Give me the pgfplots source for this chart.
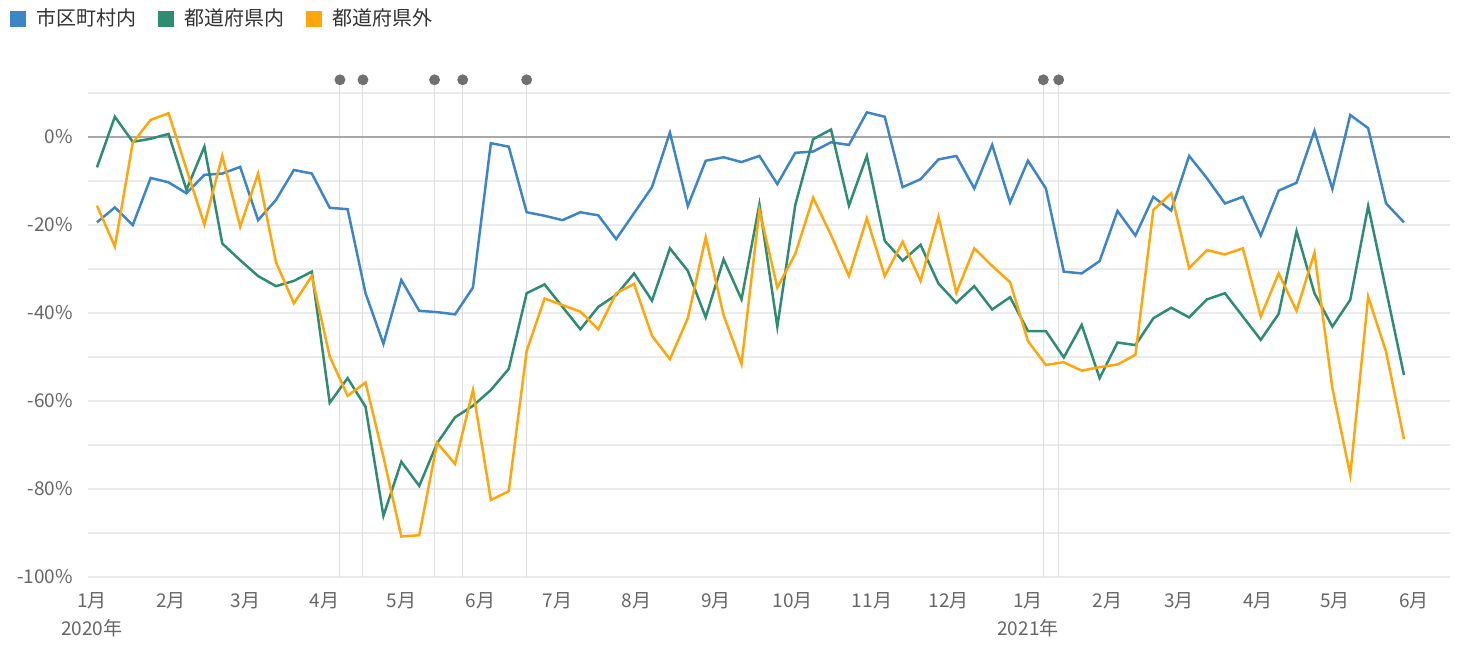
\documentclass[border=0pt]{standalone}
\usepackage{fontspec}
\setmainfont{Noto Sans CJK JP}
\usepackage{pgfplots}
\usepackage{pgfplotstable}
\pgfplotsset{compat=1.18}
\definecolor{cblue}{HTML}{3D85C6}
\definecolor{cgreen}{HTML}{2E8B74}
\definecolor{corange}{HTML}{FFA60D}
\definecolor{gridgray}{HTML}{EBEBEB}
\definecolor{zerogray}{HTML}{A8A8A8}
\definecolor{eventgray}{HTML}{DEDEDE}
\definecolor{dotgray}{HTML}{707070}
\definecolor{tickgray}{HTML}{666666}
\definecolor{legtext}{HTML}{333333}

\pgfplotstableread{
d b g o
2 -19.4 -6.9 -15.6
9 -16.0 4.6 -24.9
16 -20.0 -1.1 -1.3
23 -9.3 -0.4 3.9
30 -10.3 0.7 5.4
37 -12.8 -12.0 -7.3
44 -8.6 -2.2 -19.9
51 -8.3 -24.2 -4.3
58 -6.8 -28.0 -20.4
65 -18.9 -31.6 -8.3
72 -14.3 -33.9 -28.5
79 -7.5 -32.7 -37.8
86 -8.3 -30.6 -31.6
93 -16.1 -60.4 -49.9
100 -16.4 -54.8 -58.8
107 -35.5 -61.3 -55.8
114 -47.0 -86.1 -72.7
121 -32.5 -73.8 -90.8
128 -39.5 -79.3 -90.5
135 -39.8 -69.6 -69.5
142 -40.3 -63.7 -74.3
149 -34.2 -61.1 -57.5
156 -1.4 -57.5 -82.5
163 -2.2 -52.7 -80.5
170 -17.1 -35.5 -48.6
177 -17.9 -33.5 -36.7
184 -18.9 -38.6 -38.2
191 -17.1 -43.7 -39.7
198 -17.8 -38.6 -43.7
205 -23.2 -35.9 -35.5
212 -17.3 -31.0 -33.4
219 -11.4 -37.2 -45.2
226 1.0 -25.3 -50.5
233 -15.7 -30.4 -41.2
240 -5.4 -41.0 -22.8
247 -4.6 -27.8 -40.5
254 -5.7 -36.9 -51.6
261 -4.3 -15.3 -16.6
268 -10.7 -43.1 -34.2
275 -3.6 -15.5 -26.6
282 -3.3 -0.5 -13.8
289 -1.2 1.7 -22.3
296 -1.8 -15.6 -31.6
303 5.6 -4.3 -18.5
310 4.6 -23.6 -31.6
317 -11.4 -28.1 -23.8
324 -9.6 -24.5 -32.7
331 -5.1 -33.3 -18.1
338 -4.3 -37.7 -35.4
345 -11.7 -33.9 -25.3
352 -1.8 -39.2 -29.3
359 -14.9 -36.4 -33.0
366 -5.4 -44.1 -46.4
373 -11.7 -44.1 -51.8
380 -30.6 -50.1 -51.2
387 -31.0 -42.7 -53.1
394 -28.2 -54.8 -52.3
401 -16.8 -46.7 -51.7
408 -22.4 -47.3 -49.5
415 -13.6 -41.2 -16.6
422 -16.7 -38.8 -12.8
429 -4.3 -41.0 -29.8
436 -9.4 -36.9 -25.7
443 -15.1 -35.5 -26.7
450 -13.6 -40.8 -25.3
457 -22.4 -46.1 -40.8
464 -12.2 -40.2 -31.0
471 -10.4 -21.4 -39.5
478 1.4 -35.5 -26.3
485 -11.8 -43.1 -57.1
492 5.0 -37.0 -76.8
499 2.0 -15.7 -36.3
506 -15.1 -34.8 -48.8
513 -19.4 -54.1 -68.7
}\data

\begin{document}
\begin{tikzpicture}
\path[use as bounding box] (0,0) rectangle (730pt,322pt);
\begin{axis}[
  at={(44pt,33.5pt)}, anchor=south west,
  scale only axis, width=681pt, height=242pt,
  xmin=-1.5, xmax=531, ymin=-100, ymax=10,
  clip=false,
  axis line style={draw=none},
  major tick length=0pt, minor tick length=0pt,
  xtick={0,31,60,91,121,152,182,213,244,274,305,335,366,397,425,456,486,517},
  xticklabels={{1月\\[1pt]2020年},2月,3月,4月,5月,6月,7月,8月,9月,10月,11月,12月,{1月\\[1pt]2021年},2月,3月,4月,5月,6月},
  xticklabel style={align=center, anchor=north, font=\fontsize{9.5}{13}\selectfont, text=tickgray, yshift=-4pt},
  ytick={-100,-80,-60,-40,-20,0},
  yticklabels={-100\%,-80\%,-60\%,-40\%,-20\%,0\%},
  yticklabel style={font=\fontsize{9.5}{11}\selectfont, text=tickgray, xshift=-4pt},
  minor ytick={-90,-70,-50,-30,-10,10},
  ymajorgrids, yminorgrids,
  major grid style={gridgray, line width=0.7pt},
  minor grid style={gridgray, line width=0.7pt},
  legend columns=3,
  legend style={draw=none, fill=none, at={(-0.0573,1.153)}, anchor=west, inner sep=0pt,
    font=\fontsize{10}{12}\selectfont, text=legtext,
    /tikz/every even column/.append style={column sep=6pt},
    nodes={inner xsep=5pt, inner ysep=0pt}},
  legend image code/.code={\fill[#1, draw=none] (0pt,-4pt) rectangle (8pt,4pt);},
]
\addplot[eventgray, line width=0.5pt, forget plot] coordinates {(97,-100)(97,13)};
\addplot[eventgray, line width=0.5pt, forget plot] coordinates {(106,-100)(106,13)};
\addplot[eventgray, line width=0.5pt, forget plot] coordinates {(134,-100)(134,13)};
\addplot[eventgray, line width=0.5pt, forget plot] coordinates {(145,-100)(145,13)};
\addplot[eventgray, line width=0.5pt, forget plot] coordinates {(170,-100)(170,13)};
\addplot[eventgray, line width=0.5pt, forget plot] coordinates {(372,-100)(372,13)};
\addplot[eventgray, line width=0.5pt, forget plot] coordinates {(378,-100)(378,13)};
\addplot[only marks, mark=*, mark size=2.5pt, dotgray, forget plot] coordinates {(97,13)(106,13)(134,13)(145,13)(170,13)(372,13)(378,13)};
\addplot[zerogray, line width=0.7pt, forget plot] coordinates {(-1.5,0)(531,0)};
\addplot[cblue, line width=1.25pt] table[x=d, y=b] {\data};
\addplot[cgreen, line width=1.25pt] table[x=d, y=g] {\data};
\addplot[corange, line width=1.25pt] table[x=d, y=o] {\data};
\legend{市区町村内,都道府県内,都道府県外}
\end{axis}
\end{tikzpicture}
\end{document}
